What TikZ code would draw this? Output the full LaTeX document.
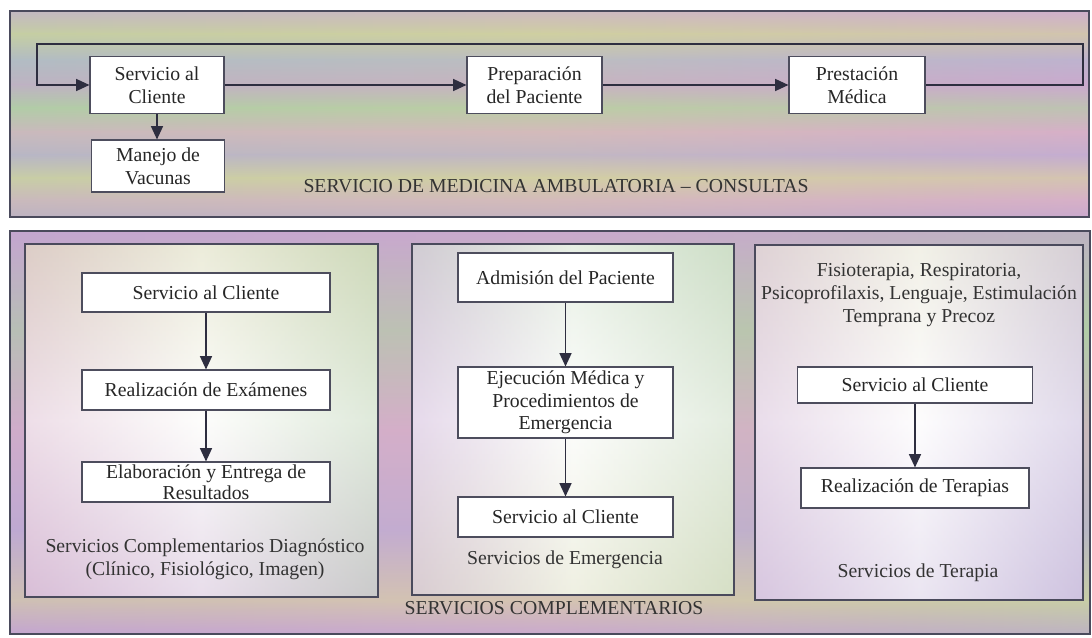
\documentclass[tikz,border=0pt]{standalone}
\usepackage{fontspec}
\setmainfont{Liberation Serif}
\usetikzlibrary{arrows.meta}

% ink and pastel colours
\definecolor{ink}{HTML}{2E2E40}
\definecolor{frame}{HTML}{4A4A5C}
\definecolor{pA}{HTML}{CDAFD0}% pink lavender
\definecolor{pB}{HTML}{CFCFA2}% yellow green
\definecolor{pC}{HTML}{B2B4D2}% blue lavender
\definecolor{pD}{HTML}{C4A6D0}% purple
\definecolor{pE}{HTML}{B2CCA8}% green
\definecolor{pF}{HTML}{D6B0C8}% pink
\definecolor{pG}{HTML}{D4CEA6}% straw
\definecolor{pH}{HTML}{BCACD4}% violet

\begin{document}
\begin{tikzpicture}[x=0.75pt,y=-0.75pt,
  font=\fontsize{14.8}{17}\selectfont,
  sz/.style 2 args={minimum width=#1*0.75pt, minimum height=#2*0.75pt},
  box/.style={draw=ink!85, line width=0.8pt, fill=white, align=center,
    inner sep=0.5pt, text=black!85},
  flow/.style={draw=ink, line width=1.1pt,
    -{Triangle[length=10pt,width=9pt]}},
  panel/.style={draw=frame, line width=0.9pt},
  caption/.style={align=center, text=black!80, inner sep=0pt}]

\useasboundingbox (0,0) rectangle (1092,638);
\fill[white] (0,0) rectangle (1092,638);

% ---- upper panel background: soft horizontal colour bands
\shade[top color=pA, bottom color=pB] (10,11) rectangle (1089,34);
\shade[top color=pB, bottom color=pC] (10,34) rectangle (1089,60);
\shade[top color=pC, bottom color=pD] (10,60) rectangle (1089,85);
\shade[top color=pD, bottom color=pE] (10,85) rectangle (1089,108);
\shade[top color=pE, bottom color=pF] (10,108) rectangle (1089,132);
\shade[top color=pF, bottom color=pH] (10,132) rectangle (1089,155);
\shade[top color=pH, bottom color=pG] (10,155) rectangle (1089,178);
\shade[top color=pG, bottom color=pF] (10,178) rectangle (1089,200);
\shade[top color=pF, bottom color=pD] (10,200) rectangle (1089,217);
\shade[left color=pE, right color=pF, middle color=pB, opacity=0.35]
  (10,11) rectangle (1089,217);
\draw[panel] (10,11) rectangle (1089,217);

% ---- lower panel background
\shade[top color=pD, bottom color=pE] (10,231) rectangle (1090,330);
\shade[top color=pE, bottom color=pF] (10,330) rectangle (1090,430);
\shade[top color=pF, bottom color=pH] (10,430) rectangle (1090,530);
\shade[top color=pH, bottom color=pG] (10,530) rectangle (1090,600);
\shade[top color=pG, bottom color=pD] (10,600) rectangle (1090,634);
\shade[left color=pD, right color=pE, middle color=pF, opacity=0.35]
  (10,231) rectangle (1090,634);
\draw[panel] (10,231) rectangle (1090,634);

% ---- three inner panels, pale with tinted edges
\shade[left color=pF!75!white, right color=pE!75!white, middle color=white!94!pB]
  (25,244) rectangle (378,597);
\shade[top color=pB!80!white, bottom color=pD!80!white, middle color=white, opacity=0.45]
  (25,244) rectangle (378,597);
\draw[panel] (25,244) rectangle (378,597);

\shade[left color=pD!70!white, right color=pE!60!white, middle color=white!95!pE]
  (412,244) rectangle (734,595);
\shade[top color=pE!70!white, bottom color=pB!70!white, middle color=white, opacity=0.4]
  (412,244) rectangle (734,595);
\draw[panel] (412,244) rectangle (734,595);

\shade[left color=pA!70!white, right color=pH!75!white, middle color=white!95!pA]
  (755,245) rectangle (1083,600);
\shade[top color=pB!60!white, bottom color=pH!70!white, middle color=white, opacity=0.4]
  (755,245) rectangle (1083,600);
\draw[panel] (755,245) rectangle (1083,600);

% ---- outpatient consultation flow
\node[box, sz={134}{57}] (sac) at (157,85) {Servicio al\\Cliente};
\node[box, sz={133}{52}] (vac) at (158,166) {Manejo de\\Vacunas};
\node[box, sz={135}{57}] (prep) at (534.5,85) {Preparación\\del Paciente};
\node[box, sz={136}{57}] (prest) at (857,85) {Prestación\\Médica};
\node[caption] (tcons) at (556,186) {SERVICIO DE MEDICINA AMBULATORIA – CONSULTAS};

\coordinate (loopR) at (1083,44);
\coordinate (loopL) at (37,44);
\draw[flow] (sac) -- (prep);
\draw[flow] (prep) -- (prest);
\draw[flow] (prest.east) -| (loopR) -- (loopL) |- (sac.west);
\draw[flow] (sac.south) -- (sac.south |- vac.north);

% ---- diagnostic services
\node[box, sz={248}{39}] (d1) at (206,292.5) {Servicio al Cliente};
\node[box, sz={248}{40}] (d2) at (206,390) {Realización de Exámenes};
\node[box, sz={248}{40}, inner sep=0pt,
  font=\fontsize{14.8}{16}\selectfont] (d3) at (206,482) {Elaboración y Entrega de\\Resultados};
\node[caption] (cd) at (205,559) {Servicios Complementarios Diagnóstico\\(Clínico, Fisiológico, Imagen)};
\draw[flow] (d1) -- (d2);
\draw[flow] (d2) -- (d3);

% ---- emergency services
\node[box, sz={215}{49}] (e1) at (565.5,277.5) {Admisión del Paciente};
\node[box, sz={215}{71}] (e2) at (565.5,402.5) {Ejecución Médica y\\Procedimientos de\\Emergencia};
\node[box, sz={215}{40}] (e3) at (565.5,517) {Servicio al Cliente};
\node[caption] (ce) at (565,560) {Servicios de Emergencia};
\draw[flow] (e1) -- (e2);
\draw[flow] (e2) -- (e3);

% ---- therapy services
\node[caption] (tt) at (919,295) {Fisioterapia, Respiratoria,\\Psicoprofilaxis, Lenguaje, Estimulación\\Temprana y Precoz};
\node[box, sz={235}{36}] (t1) at (915,385) {Servicio al Cliente};
\node[box, sz={228}{40}] (t2) at (915,488) {Realización de Terapias};
\node[caption] (ct) at (918,573) {Servicios de Terapia};
\draw[flow] (t1) -- (t2);

\node[caption] (csc) at (554,608) {SERVICIOS COMPLEMENTARIOS};
\end{tikzpicture}
\end{document}
